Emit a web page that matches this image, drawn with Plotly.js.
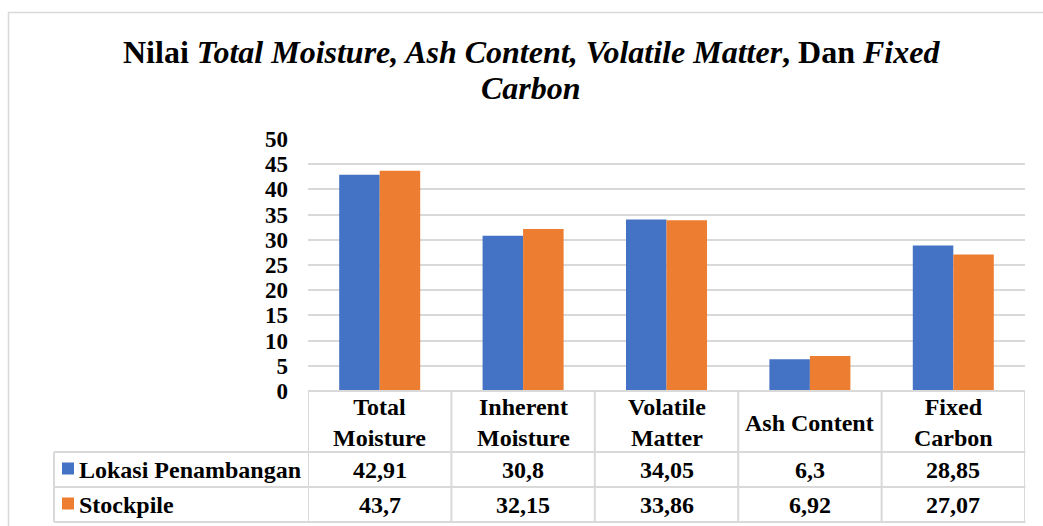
<!DOCTYPE html>
<html>
<head>
<meta charset="utf-8">
<script src="https://cdn.plot.ly/plotly-3.0.1.min.js"></script>
<style>html,body{margin:0;padding:0;background:#fff;}#chart{width:1043px;height:526px;}</style>
</head>
<body>
<div id="chart"></div>
<script>
// ---- data ----
const categories = ["Total Moisture", "Inherent Moisture", "Volatile Matter", "Ash Content", "Fixed Carbon"];
const categoryLabels = ["Total<br>Moisture", "Inherent<br>Moisture", "Volatile<br>Matter", "Ash Content", "Fixed<br>Carbon"];
const seriesNames = ["Lokasi Penambangan", "Stockpile"];
const lokasiPenambangan = [42.91, 30.8, 34.05, 6.3, 28.85];
const stockpile = [43.7, 32.15, 33.86, 6.92, 27.07];
const yTicks = [0, 5, 10, 15, 20, 25, 30, 35, 40, 45, 50];
const titleLines = [
  "<b>Nilai <i>Total Moisture, Ash Content, Volatile Matter</i>, Dan <i>Fixed</i></b>",
  "<b><i>Carbon</i></b>"
];

// ---- layout helpers ----
const W = 1043, H = 526;
const colors = ["#4472C4", "#ED7D31"];
const px = x => x / W;
const py = y => 1 - y / H;
const FONT = "Liberation Serif";
const grid = "#D9D9D9";

const xIdx = categories.map((c, i) => i);
const traces = [lokasiPenambangan, stockpile].map((vals, s) => ({
  type: "bar",
  name: seriesNames[s],
  x: xIdx,
  y: vals,
  marker: {color: colors[s], line: {width: 0}},
  hoverinfo: "x+y+name"
}));

const fmt = v => String(v).replace(".", ",");

// table geometry (pixels)
const tableTop = 391, headBottom = 452, row1Bottom = 487, tableBottom = 522, labelLeft = 54;

const shapes = [];
const vline = (x, y0, y1) => shapes.push({
  type: "line", xref: "x", yref: "paper", x0: x, x1: x, y0: py(y0), y1: py(y1),
  line: {color: grid, width: 2}
});
shapes.push({type: "line", xref: "x", yref: "paper", x0: -0.5, x1: categories.length - 0.5, y0: py(tableTop), y1: py(tableTop), line: {color: grid, width: 2}});
shapes.push({type: "line", xref: "paper", yref: "paper", x0: px(labelLeft), x1: px(labelLeft), y0: py(headBottom), y1: py(tableBottom), line: {color: grid, width: 2}});
[headBottom, row1Bottom, tableBottom].forEach(y => {
  shapes.push({type: "line", xref: "paper", yref: "paper", x0: px(labelLeft), x1: px(1025.5), y0: py(y), y1: py(y), line: {color: grid, width: 2}});
});
for (let i = 0; i <= categories.length; i++) vline(i - 0.5, tableTop, tableBottom);
// outer chart border
shapes.push({type: "rect", xref: "paper", yref: "paper", x0: px(8.5), x1: px(1050), y0: py(530), y1: py(12.5), line: {color: grid, width: 1.5}});
// legend keys in table
[row1Bottom, tableBottom].forEach((yb, s) => {
  const yc = (yb - 35 / 2) - 1;
  shapes.push({type: "rect", xref: "paper", yref: "paper", x0: px(62), x1: px(74), y0: py(yc + 6), y1: py(yc - 6), fillcolor: colors[s], line: {width: 0}});
});

const annotations = [];
const tf = {family: FONT, size: 24, color: "#000"};
categoryLabels.forEach((lab, i) => {
  annotations.push({xref: "x", yref: "paper", x: i, y: py((tableTop + headBottom) / 2 + 1), text: "<b>" + lab + "</b>", showarrow: false, font: tf, xanchor: "center", yanchor: "middle"});
});
[lokasiPenambangan, stockpile].forEach((vals, s) => {
  const yc = s === 0 ? (headBottom + row1Bottom) / 2 : (row1Bottom + tableBottom) / 2;
  vals.forEach((v, i) => {
    annotations.push({xref: "x", yref: "paper", x: i, y: py(yc), text: "<b>" + fmt(v) + "</b>", showarrow: false, font: tf, xanchor: "center", yanchor: "middle"});
  });
  annotations.push({xref: "paper", yref: "paper", x: px(77), y: py(yc), text: "<b>" + seriesNames[s] + "</b>", showarrow: false, font: tf, xanchor: "left", yanchor: "middle"});
});
// title (two lines, Excel-like line spacing)
titleLines.forEach((t, k) => {
  annotations.push({
    xref: "paper", yref: "paper", x: px(531), y: py(52 + 36 * k), xanchor: "center", yanchor: "middle",
    text: t, font: {family: FONT, size: 32, color: "#000"}, showarrow: false
  });
});

const layout = {
  width: W, height: H,
  margin: {l: 0, r: 0, t: 0, b: 0},
  paper_bgcolor: "#fff", plot_bgcolor: "#fff",
  showlegend: false,
  barmode: "group",
  bargap: 0.435,
  bargroupgap: 0,
  font: {family: FONT, color: "#000"},
  xaxis: {
    domain: [px(308), px(1025)],
    range: [-0.5, categories.length - 0.5],
    showticklabels: false, showgrid: false, zeroline: false, showline: false, ticks: "",
    fixedrange: true
  },
  yaxis: {
    domain: [py(391), py(139)],
    range: [0, 50],
    tickvals: yTicks, ticktext: yTicks.map(v => "<b>" + v + "</b>"),
    showgrid: true, gridcolor: grid, gridwidth: 2,
    zeroline: false, showline: false, ticks: "",
    tickfont: {family: FONT, size: 23, color: "#000"},
    ticklabelstandoff: 19,
    fixedrange: true
  },
  shapes: shapes,
  annotations: annotations
};

Plotly.newPlot("chart", traces, layout, {displayModeBar: false, staticPlot: true});
</script>
</body>
</html>
